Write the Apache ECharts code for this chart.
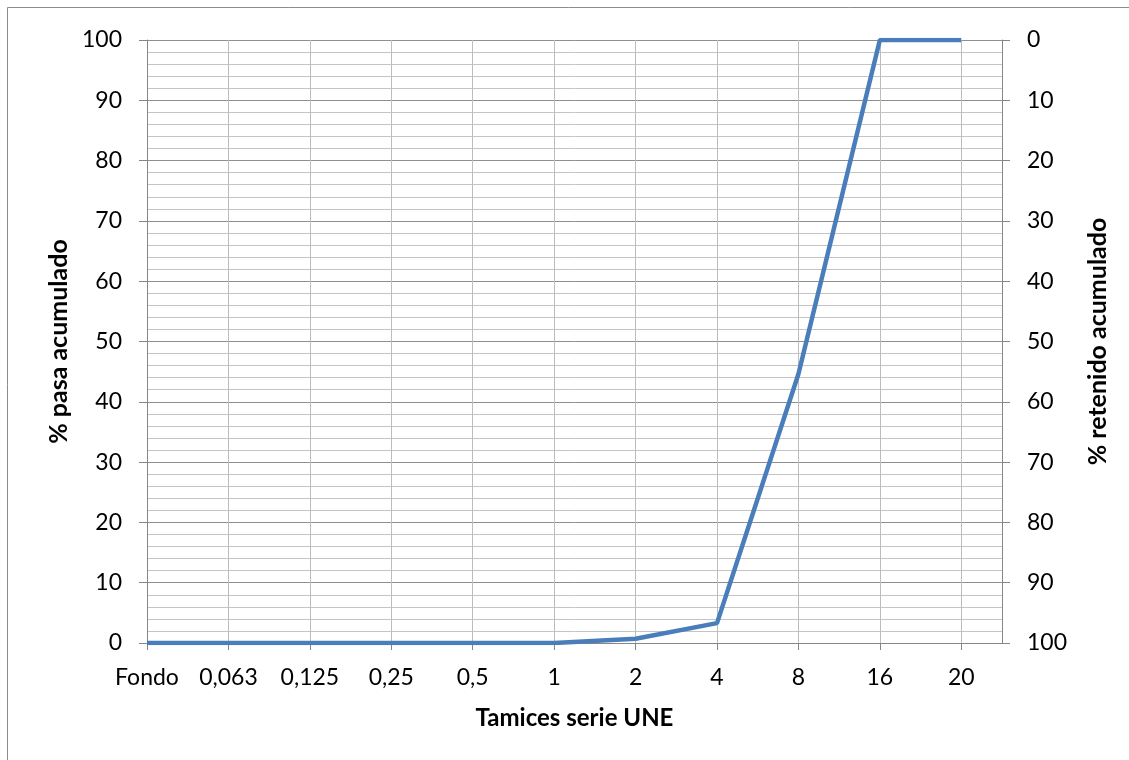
<!DOCTYPE html>
<html><head><meta charset="utf-8">
<script src="https://cdn.jsdelivr.net/npm/echarts@6/dist/echarts.min.js"></script>
<style>html,body{margin:0;padding:0;background:#fff}#c{width:1129px;height:760px}</style>
</head><body><div id="c"></div>
<script>
const categories = ['Fondo','0,063','0,125','0,25','0,5','1','2','4','8','16','20'];
const pasa = [0,0,0,0,0,0,0.7,3.3,44.6,100,100];
const yTicksLeft = [0,10,20,30,40,50,60,70,80,90,100];

const FONT = 'Lato, "Open Sans", sans-serif';
const idx = categories.map((c,i)=>i);
const chart = echarts.init(document.getElementById('c'));
chart.setOption({
  animation:false,
  backgroundColor:'#fff',
  graphic:[{type:'rect',shape:{x:7.5,y:7.5,width:1300,height:900},style:{fill:'none',stroke:'#8c8c8c',lineWidth:1},silent:true}],
  grid:{left:147,right:127,top:40,bottom:117,containLabel:false},
  xAxis:{type:'value',min:0,max:10.5,interval:0.5,
    name:'Tamices serie UNE',nameLocation:'middle',nameGap:63,
    nameTextStyle:{fontFamily:FONT,fontSize:24,fontWeight:'bold',color:'#000'},
    axisLine:{show:true,onZero:false,lineStyle:{color:'#868686',width:1}},
    axisTick:{show:true,customValues:idx,length:7,lineStyle:{color:'#868686'}},
    axisLabel:{customValues:idx,formatter:v=>categories[Math.round(v)],fontFamily:FONT,fontSize:23,color:'#000',margin:23},
    splitLine:{show:true,lineStyle:{color:'#bdbdbd',width:1}}
  },
  yAxis:[
    {type:'value',min:0,max:100,interval:10,position:'left',
     name:'% pasa acumulado',nameLocation:'middle',nameGap:72,nameRotate:90,
     nameTextStyle:{fontFamily:FONT,fontSize:25,fontWeight:'bold',color:'#000'},
     axisLine:{show:true,lineStyle:{color:'#868686'}},
     axisTick:{show:true,length:8,lineStyle:{color:'#868686'}},
     axisLabel:{fontFamily:FONT,fontSize:23,color:'#000',margin:25},
     splitLine:{show:true,lineStyle:{color:'#8f8f8f',width:1}},
     minorTick:{show:false,splitNumber:5},
     minorSplitLine:{show:true,lineStyle:{color:'#c4c4c4',width:1}}
    },
    {type:'value',min:0,max:100,interval:10,position:'right',inverse:true,
     name:'% retenido acumulado',nameLocation:'middle',nameGap:83,nameRotate:90,
     nameTextStyle:{fontFamily:FONT,fontSize:25,fontWeight:'bold',color:'#000'},
     axisLine:{show:true,lineStyle:{color:'#868686'}},
     axisTick:{show:true,length:8,lineStyle:{color:'#868686'}},
     axisLabel:{fontFamily:FONT,fontSize:23,color:'#000',margin:25,align:'left'},
     splitLine:{show:false}
    }
  ],
  series:[{type:'line',yAxisIndex:0,data:pasa.map((v,i)=>[i,v]),
    symbol:'none',lineStyle:{color:'#4a7ebb',width:4.5},itemStyle:{color:'#4a7ebb'}}]
});
</script></body></html>
